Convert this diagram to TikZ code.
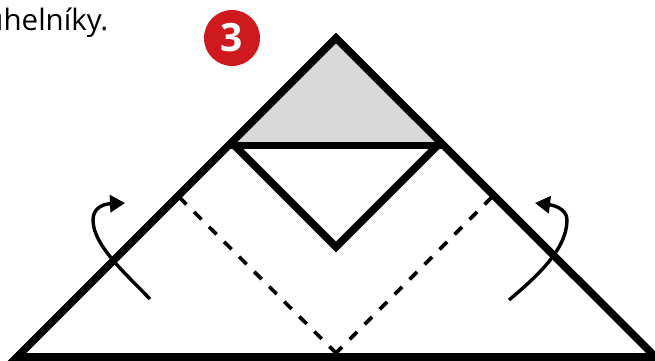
\documentclass[tikz,border=0pt]{standalone}
\usepackage{fontspec}
\setmainfont{Open Sans}
\usepackage{tikz}
\usetikzlibrary{arrows.meta,positioning,calc}
\definecolor{badgered}{HTML}{CE1A1F}
\definecolor{flapgray}{HTML}{D9D9D9}
\begin{document}
\begin{tikzpicture}[
  x=1pt, y=-1pt,
  e/.style={line width=7.6pt,miter limit=10},
  d/.style={line width=3.6pt,dash pattern=on 10.5pt off 10.7pt},
  a/.style={line width=3.4pt,-{Triangle[length=15pt,width=17pt]}},
  n/.style={circle,fill=badgered,text=white,minimum size=56pt,inner sep=0pt,font=\fontsize{39}{39}\bfseries},
  t/.style={anchor=base east,inner sep=0pt,font=\fontsize{29.5}{29.5}\selectfont}]
\useasboundingbox (0,0) rectangle (655,360);
\coordinate (apex) at (336,38);
\coordinate (bl) at (17,357);
\coordinate (br) at (655.5,357);
\coordinate (fl) at (228.5,145.5);
\coordinate (fr) at (444.5,145.5);
\coordinate (vl) at (234.5,145.5);
\coordinate (vr) at (437.5,145.5);
\coordinate (fb) at (336,247);
\coordinate (dl) at (179,197);
\coordinate (dr) at (492,197);
\coordinate (db) at (336,353);
\coordinate (al) at (150,299);
\coordinate (alm) at (93,220);
\coordinate (ale) at (125,203);
\coordinate (ar) at (509,300);
\coordinate (arm) at (567,220);
\coordinate (are) at (535,203);
\node[t] (word) at (108.5,30) {úhelníky.};
\node[n] (num) at (232,38) {3};
\fill[flapgray] (apex)--(fl)--(fr)--cycle;
\draw[d](dl)--(db);\draw[d](dr)--(db);
\draw[e](apex)--(bl)--(br)--cycle;
\draw[e](fl)--(fr);\draw[e](vl)--(fb)--(vr);
\draw[a](al) .. controls (125,273) and (93,245) .. (alm) .. controls (93,208) and (103,204) .. (ale);
\draw[a](ar) .. controls (535,278) and (567,250) .. (arm) .. controls (567,208) and (552,205) .. (are);
\end{tikzpicture}
\end{document}
